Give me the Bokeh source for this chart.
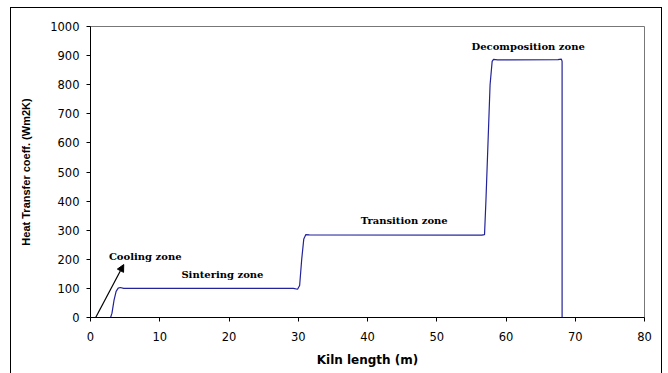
from bokeh.plotting import figure
from bokeh.models import Range1d, Arrow, NormalHead, ColumnDataSource, SingleIntervalTicker
from bokeh.core.properties import value
from bokeh.embed import file_html
from bokeh.resources import INLINE

# Heat transfer coefficient along the kiln
kiln_x = [0, 2.9, 3.1, 3.4, 3.7, 4.0, 4.3, 4.8, 10, 29.3, 29.9, 30.2, 30.5, 30.8, 31.1, 31.6,
          56.5, 56.9, 57.1, 57.4, 57.7, 58.0, 58.2, 58.8, 67.5, 68.0, 68.1, 68.1]
htc_y = [0, 0, 15, 60, 90, 101, 103, 100, 100, 100, 97, 110, 200, 270, 285, 284,
         283, 285, 400, 600, 800, 880, 887, 885, 886, 888, 880, 0]

zone_names = ["Cooling zone", "Sintering zone", "Transition zone", "Decomposition zone"]
zone_x = [7.9, 19.05, 45.3, 63.2]
zone_y = [211, 149, 334, 932]

arrow_start = (0.75, 0)
arrow_end = (4.8, 182)

p = figure(width=652, height=367, output_backend="svg", toolbar_location=None,
           x_range=Range1d(0, 80), y_range=Range1d(0, 1000),
           min_border_left=79, min_border_top=18, min_border_right=19, min_border_bottom=58)
p.styles = {"margin-left": "10px", "margin-top": "7px", "border": "1px solid black"}

p.xgrid.visible = False
p.ygrid.visible = False
p.outline_line_color = "#777777"
p.outline_line_width = 1
p.background_fill_color = "white"
p.border_fill_color = "white"

p.xaxis.ticker = SingleIntervalTicker(interval=10, num_minor_ticks=0)
p.yaxis.ticker = SingleIntervalTicker(interval=100, num_minor_ticks=0)
for ax in (p.xaxis[0], p.yaxis[0]):
    ax.axis_line_color = "black"
    ax.major_tick_line_color = "black"
    ax.major_tick_out = 4
    ax.major_tick_in = 0
    ax.minor_tick_line_color = None
    ax.major_label_text_font = "DejaVu Sans"
    ax.major_label_text_font_size = "11.5px"
    ax.major_label_text_color = "black"
    ax.axis_label_text_color = "black"
    ax.axis_label_text_font_style = "bold"

p.xaxis.axis_label = "Kiln length (m)"
p.xaxis.axis_label_text_font = "DejaVu Sans"
p.xaxis.axis_label_text_font_size = "12px"
p.xaxis.major_label_standoff = 10
p.xaxis.axis_label_standoff = 9

p.yaxis.axis_label = "Heat Transfer coeff. (Wm2K)"
p.yaxis.axis_label_text_font = "Liberation Sans"
p.yaxis.axis_label_text_font_size = "11px"
p.yaxis.major_label_standoff = 7
p.yaxis.axis_label_standoff = 15

p.line(kiln_x, htc_y, line_color="#22229a", line_width=1.2)

p.add_layout(Arrow(end=NormalHead(size=7, fill_color="black", line_color="black"),
                   x_start=arrow_start[0], y_start=arrow_start[1],
                   x_end=arrow_end[0], y_end=arrow_end[1],
                   line_color="black", line_width=1.2))

src = ColumnDataSource(dict(x=zone_x, y=zone_y, t=zone_names))
p.text("x", "y", text="t", source=src, text_font=value("DejaVu Serif"),
       text_font_style="bold", text_font_size="10px", text_align="center",
       text_baseline="middle", text_color="black")

open("out.html", "w").write(file_html(p, INLINE))
